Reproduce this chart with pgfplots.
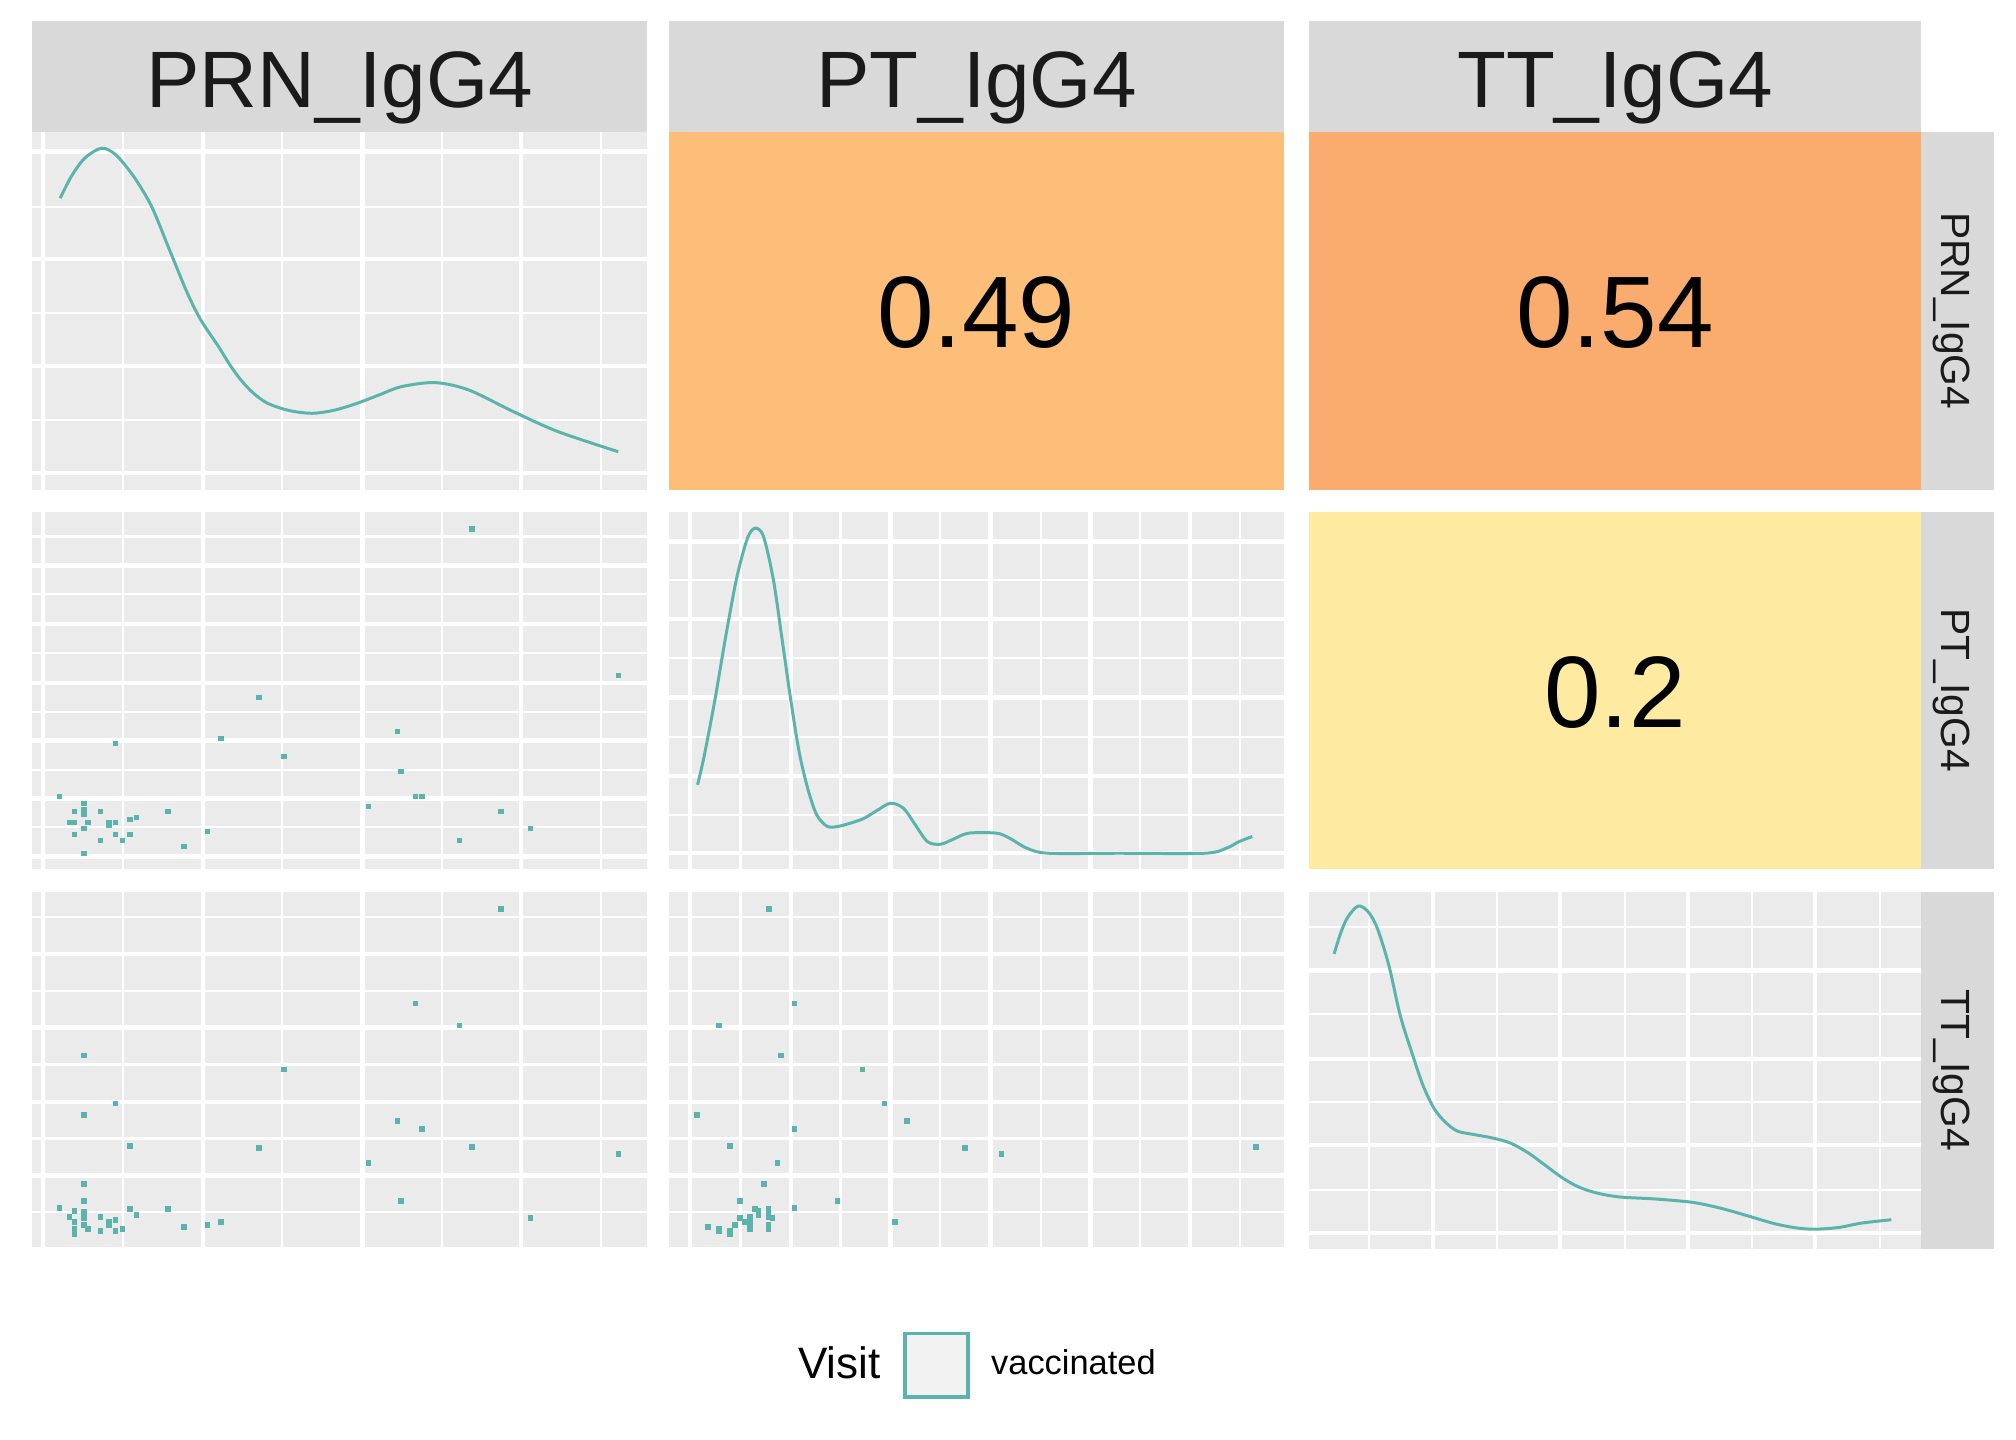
\documentclass[border=0pt]{standalone}
\usepackage{fontspec}
\setmainfont{Liberation Sans}
\usepackage{pgfplots}
\pgfplotsset{compat=1.18}
\definecolor{panelbg}{HTML}{EBEBEB}
\definecolor{stripgray}{HTML}{D9D9D9}
\definecolor{striptext}{HTML}{1A1A1A}
\definecolor{tealc}{HTML}{5AB4AC}
\definecolor{corrA}{HTML}{FDBE7A}
\definecolor{corrB}{HTML}{FAAC6E}
\definecolor{corrC}{HTML}{FEEBA1}
\definecolor{keyfill}{HTML}{F2F2F2}
\pgfplotsset{
  base/.style={scale only axis, xmin=0, xmax=478, ymin=0, ymax=278, anchor=south west},
  panel/.style={base,
    axis line style={draw=none}, tick style={draw=none},
    xticklabels={}, yticklabels={},
    axis background/.style={fill=panelbg},
    grid=both,
    major grid style={draw=white, line width=1.07pt},
    minor grid style={draw=white, line width=0.53pt}},
  corr/.style={base, axis line style={draw=none}, xtick=\empty, ytick=\empty},
  c1/.style={width=153.75bp}, c2/.style={width=153.65bp}, c3/.style={width=153.0bp},
  r1/.style={height=89.6bp}, r2/.style={height=89.4bp}, r3/.style={height=88.8bp},
  prnx/.style={xtick={8.7,132.9,256.8,380.3}, minor xtick={70.5,194.3,318.6,442.4}},
  ptx/.style={xtick={16.5,94.7,172.2,250.0,327.9,405.4}, minor xtick={55.6,133.4,210.9,289.1,366.6,444.1}},
  ttx/.style={xtick={97.0,196.2,296.1,395.2}, minor xtick={47.1,147.0,246.8,346.0,445.9}},
  pty/.style={ytick={9.8,54.9,100,144.8,190.7,236}, minor ytick={32.6,77.2,122.3,168.4,213.8,258.6}},
  tty/.style={ytick={55.9,113.6,171.6,229.3}, minor ytick={27.3,84.8,142.7,200.2,258.2}},
  dens/.style={tealc, line width=0.75pt, smooth},
  pts/.style={tealc, only marks, mark=square*, mark size=0.5pt},
}
\newcommand{\corrfont}{\fontsize{25.4bp}{30bp}\selectfont}
\begin{document}
\begin{tikzpicture}
\useasboundingbox (0,0) rectangle (504bp,360bp);
% ---------- top strips
\fill[stripgray] (8.0bp,327.1bp) rectangle (161.75bp,354.75bp);
\fill[stripgray] (167.25bp,327.1bp) rectangle (320.9bp,354.75bp);
\fill[stripgray] (327.25bp,327.1bp) rectangle (480.25bp,354.75bp);
\node[anchor=base, inner sep=0, text=striptext, font=\fontsize{20bp}{24bp}\selectfont] at (84.9bp,333.2bp) {PRN\_IgG4};
\node[anchor=base, inner sep=0, text=striptext, font=\fontsize{20bp}{24bp}\selectfont] at (244.1bp,333.2bp) {PT\_IgG4};
\node[anchor=base, inner sep=0, text=striptext, font=\fontsize{20bp}{24bp}\selectfont] at (403.75bp,333.2bp) {TT\_IgG4};
% ---------- right strips
\fill[stripgray] (480.25bp,237.5bp) rectangle (498.5bp,327.1bp);
\fill[stripgray] (480.25bp,142.7bp) rectangle (498.5bp,232.1bp);
\fill[stripgray] (480.25bp,47.7bp) rectangle (498.5bp,137.1bp);
\node[anchor=base, rotate=-90, inner sep=0, text=striptext, font=\fontsize{10.2bp}{12bp}\selectfont] at (485.25bp,282.3bp) {PRN\_IgG4};
\node[anchor=base, rotate=-90, inner sep=0, text=striptext, font=\fontsize{10.2bp}{12bp}\selectfont] at (485.25bp,187.4bp) {PT\_IgG4};
\node[anchor=base, rotate=-90, inner sep=0, text=striptext, font=\fontsize{10.2bp}{12bp}\selectfont] at (485.25bp,92.4bp) {TT\_IgG4};

% ---------- row 1
\begin{axis}[panel, c1, r1, prnx, ytick={13,96,179,262.5}, minor ytick={54,137,219.8},
  at={(8.0bp,237.5bp)}]
\addplot[dens] coordinates {
(21.9,226.3)(30.5,243.1)(40.9,257.3)(54.1,265.1)(65.2,259.9)(79.1,243.1)
(93,219.8)(106.9,186.2)(120.8,152.6)(131.2,131.9)(145,111.2)(153.5,97.5)(162.4,85.3)
(172,75.2)(183.2,67.2)(200,61.6)(217.9,59.5)(235,61.9)(252.6,67.2)(270,73.8)(287.3,80.2)(313.3,83.3)(339.4,77.6)
(374.1,60.8)(408.8,45.3)(455.6,29.7)};
\end{axis}
\begin{axis}[corr, c2, r1, axis background/.style={fill=corrA}, at={(167.25bp,237.5bp)}]
\node[font=\corrfont, inner sep=0] at (axis cs:239,137.3) {0.49};
\end{axis}
\begin{axis}[corr, c3, r1, axis background/.style={fill=corrB}, at={(327.25bp,237.5bp)}]
\node[font=\corrfont, inner sep=0] at (axis cs:239,137.3) {0.54};
\end{axis}

% ---------- row 2
\begin{axis}[panel, c1, r2, prnx, pty, at={(8.0bp,142.7bp)}]
\addplot[pts] coordinates {
(341.8,264.5)(456.0,150.5)(176.3,133.4)(284.2,107.0)(146.8,101.5)(64.9,97.6)
(195.7,87.5)(286.6,75.9)(21.5,56.5)(298.1,56.5)(302.9,56.5)(261.6,48.7)
(40.3,51.0)(33.0,44.8)(40.3,46.1)(40.3,42.5)(53.4,44.8)(105.5,44.8)
(364.4,44.8)(81.2,40.2)(76.0,38.6)(29.1,36.3)(33.0,36.3)(43.4,36.3)
(59.7,36.3)(59.7,33.9)(64.9,36.3)(40.3,31.6)(136.4,29.3)(387.6,31.6)
(33.0,26.9)(64.9,26.9)(76.0,26.9)(53.4,22.3)(70.4,22.3)(332.4,22.3)
(118.0,17.6)(40.3,12.2)};
\end{axis}
\begin{axis}[panel, c2, r2, ptx, ytick={12.4,72.5,133.4,194.3,254.7}, minor ytick={42.2,103.1,164.0,224.9},
  at={(167.25bp,142.7bp)}]
\addplot[dens] coordinates {
(22.2,65.6)(27.3,87.6)(35.7,131.6)(44.1,180.8)(52.6,226.2)(61.0,257.3)
(67.1,265.1)(73.5,258.6)(81.2,224.9)(88.0,178.3)(94.7,131.6)(101.4,90.2)
(108.2,61.7)(114.9,42.2)(123.3,33.2)(133.5,33.7)(150.3,38.9)(160.4,44.8)
(172.2,51.3)(182.3,47.4)(190.7,35.8)(200.9,21.5)(211.0,19.4)(221.1,23.3)
(232.9,28.0)(254.8,28.0)(264.9,24.1)(278.4,16.3)(295.2,12.4)(350,12.4)
(416.5,12.4)(433.4,16.3)(443.5,21.5)(453.6,25.4)};
\end{axis}
\begin{axis}[corr, c3, r2, axis background/.style={fill=corrC}, at={(327.25bp,142.7bp)}]
\node[font=\corrfont, inner sep=0] at (axis cs:239,137.3) {0.2};
\end{axis}

% ---------- row 3
\begin{axis}[panel, c1, r3, prnx, tty, at={(8.0bp,48.3bp)}]
\addplot[pts] coordinates {
(364.4,264.4)(298.1,190.3)(332.4,173.2)(40.3,149.8)(195.7,138.8)(64.9,112.3)
(40.3,103.0)(284.2,98.3)(302.9,92.0)(76.0,78.8)(176.3,77.2)(341.8,78.0)
(456.0,72.5)(261.6,65.5)(40.3,49.1)(40.3,35.9)(286.6,35.9)(21.5,30.4)
(33.0,28.1)(40.3,27.3)(76.0,29.6)(105.5,29.6)(81.2,25.0)(53.4,23.4)
(29.1,23.4)(40.3,22.6)(64.9,21.1)(59.7,19.5)(33.0,19.5)(59.7,17.2)
(40.3,17.2)(387.6,22.6)(136.4,17.2)(146.8,19.5)(118.0,15.6)(33.0,14.0)
(43.4,14.0)(70.4,14.0)(53.4,12.5)(64.9,12.5)(33.0,10.1)};
\end{axis}
\begin{axis}[panel, c2, r3, ptx, tty, at={(167.25bp,48.3bp)}]
\addplot[pts] coordinates {
(77.7,264.4)(97.7,190.3)(38.7,173.2)(87.3,149.8)(150.5,138.8)(167.6,112.3)
(21.6,103.0)(185.0,98.3)(97.7,92.0)(47.4,78.8)(230.1,77.2)(456.4,78.0)
(258.5,72.5)(84.4,65.5)(73.8,49.1)(55.1,35.9)(131.2,35.9)(97.7,30.4)
(66.7,29.6)(69.6,28.1)(77.4,29.6)(77.4,27.3)(69.6,25.0)(55.1,22.6)
(62.8,23.4)(77.4,23.4)(80.6,22.6)(59.0,19.5)(62.8,19.5)(175.7,19.5)
(51.2,17.2)(62.8,15.6)(77.4,17.2)(77.4,14.0)(30.3,15.6)(38.7,14.0)
(38.7,12.5)(47.4,12.5)(47.4,10.1)(62.8,14.0)};
\end{axis}
\begin{axis}[panel, c3, height=89.4bp, ttx, ytick={12.5,80.9,147.7,216.6}, minor ytick={46.3,114.4,182.8,250.4},
  at={(327.25bp,47.7bp)}]
\addplot[dens] coordinates {
(19.6,229.6)(25.0,246.5)(30.3,258.2)(38.5,266.8)(46.4,262.1)(53.5,249.1)
(62.4,220.5)(71.3,181.5)(80.3,152.9)(89.2,126.9)(98.1,108.7)(107.0,98.3)
(115.9,91.8)(128.4,89.2)(142.7,86.6)(156.9,82.7)(171.2,74.9)(185.5,64.5)
(198.0,55.4)(210.5,48.4)(224.7,43.7)(242.6,40.6)(271.1,39.0)(299.6,36.4)
(321.0,32.0)(342.4,26.0)(363.8,19.8)(381.7,16.4)(395.9,15.6)(413.8,16.9)
(431.6,20.3)(454.8,22.9)};
\end{axis}

% ---------- legend
\node[anchor=base east, inner sep=0, font=\fontsize{11bp}{13bp}\selectfont] at (220.3bp,15.4bp) {Visit};
\filldraw[fill=keyfill, draw=tealc, line width=0.9pt] (226.2bp,10.8bp) rectangle (242.0bp,26.6bp);
\node[anchor=base west, inner sep=0, font=\fontsize{8.6bp}{10.3bp}\selectfont] at (247.6bp,16.4bp) {vaccinated};
\end{tikzpicture}
\end{document}
